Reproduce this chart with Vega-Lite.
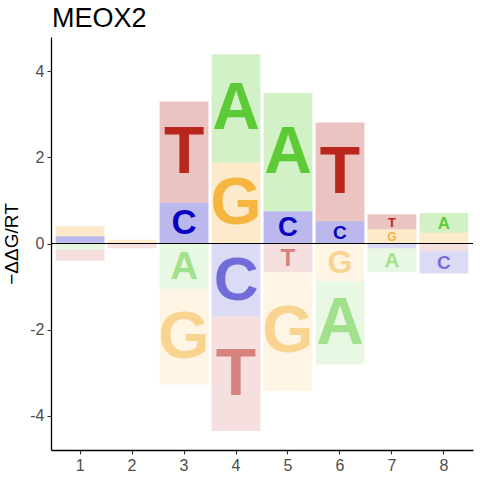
{
  "$schema": "https://vega.github.io/schema/vega-lite/v6.json",
  "width": 422,
  "height": 413,
  "autosize": "none",
  "padding": {"left": 51, "top": 37, "right": 7, "bottom": 30},
  "background": "white",
  "title": {"text": "MEOX2", "anchor": "start", "frame": "group", "offset": 4, "dx": 1, "fontSize": 27, "font": "Liberation Sans", "fontWeight": "normal", "color": "black"},
  "config": {
    "view": {"stroke": null},
    "axis": {"grid": false, "domainColor": "black", "domainWidth": 1.3, "tickColor": "#333333", "tickSize": 4, "tickWidth": 1.1, "labelColor": "#4d4d4d", "labelFont": "Liberation Sans", "labelFontSize": 16, "titleFont": "Liberation Sans", "titleFontWeight": "normal", "titleColor": "black"}
  },
  "data": {"values": [
    {"pos": 1, "letter": "C", "y0": 0.02, "y1": 0.17},
    {"pos": 1, "letter": "G", "y0": 0.17, "y1": 0.40},
    {"pos": 1, "letter": "A", "y0": 0, "y1": -0.14},
    {"pos": 1, "letter": "T", "y0": -0.14, "y1": -0.40},
    {"pos": 2, "letter": "G", "y0": 0, "y1": 0.09},
    {"pos": 2, "letter": "T", "y0": 0, "y1": -0.11},
    {"pos": 3, "letter": "C", "y0": 0, "y1": 0.95},
    {"pos": 3, "letter": "T", "y0": 0.95, "y1": 3.30},
    {"pos": 3, "letter": "A", "y0": 0, "y1": -1.05},
    {"pos": 3, "letter": "G", "y0": -1.05, "y1": -3.28},
    {"pos": 4, "letter": "G", "y0": 0, "y1": 1.88},
    {"pos": 4, "letter": "A", "y0": 1.88, "y1": 4.40},
    {"pos": 4, "letter": "C", "y0": 0, "y1": -1.69},
    {"pos": 4, "letter": "T", "y0": -1.69, "y1": -4.36},
    {"pos": 5, "letter": "C", "y0": 0, "y1": 0.75},
    {"pos": 5, "letter": "A", "y0": 0.75, "y1": 3.50},
    {"pos": 5, "letter": "T", "y0": 0, "y1": -0.66},
    {"pos": 5, "letter": "G", "y0": -0.66, "y1": -3.43},
    {"pos": 6, "letter": "C", "y0": 0, "y1": 0.52},
    {"pos": 6, "letter": "T", "y0": 0.52, "y1": 2.81},
    {"pos": 6, "letter": "G", "y0": 0, "y1": -0.88},
    {"pos": 6, "letter": "A", "y0": -0.88, "y1": -2.81},
    {"pos": 7, "letter": "G", "y0": 0, "y1": 0.33},
    {"pos": 7, "letter": "T", "y0": 0.33, "y1": 0.68},
    {"pos": 7, "letter": "C", "y0": 0, "y1": -0.11},
    {"pos": 7, "letter": "A", "y0": -0.11, "y1": -0.67},
    {"pos": 8, "letter": "G", "y0": 0, "y1": 0.25},
    {"pos": 8, "letter": "A", "y0": 0.25, "y1": 0.71},
    {"pos": 8, "letter": "T", "y0": 0, "y1": -0.18},
    {"pos": 8, "letter": "C", "y0": -0.18, "y1": -0.70}
  ]},
  "layer": [
    {
      "mark": {"type": "rect"},
      "encoding": {
        "x": {"field": "pos", "type": "ordinal", "scale": {"paddingInner": 0.06, "paddingOuter": 0.09}, "axis": {"title": null, "labelAngle": 0, "labelPadding": 3}},
        "y": {"field": "y0", "type": "quantitative", "scale": {"domain": [-4.8, 4.8], "nice": false, "zero": false}, "axis": {"title": "−ΔΔG/RT", "titleFontSize": 19, "titlePadding": 8, "values": [-4, -2, 0, 2, 4], "labelExpr": "toString(datum.value)", "labelPadding": 3}},
        "y2": {"field": "y1"},
        "color": {"field": "letter", "type": "nominal", "scale": {"domain": ["A", "C", "G", "T"], "range": ["#5dcb37", "#0a00c2", "#f5b53f", "#b8261e"]}, "legend": null},
        "opacity": {"condition": {"test": "datum.y1 < 0", "value": 0.14}, "value": 0.28}
      }
    },
    {
      "transform": [
        {"calculate": "(datum.y0 + datum.y1) / 2", "as": "mid"},
        {"calculate": "abs(datum.y1 - datum.y0)", "as": "h"},
        {"filter": "datum.h > 0.3"}
      ],
      "mark": {"type": "text", "font": "Liberation Sans", "fontWeight": "bold", "baseline": "middle", "align": "center", "dy": 1},
      "encoding": {
        "x": {"field": "pos", "type": "ordinal"},
        "y": {"field": "mid", "type": "quantitative"},
        "text": {"field": "letter"},
        "size": {"field": "h", "type": "quantitative", "scale": {"domain": [0, 1.8], "range": [0, 66], "clamp": true}, "legend": null},
        "color": {"field": "letter", "type": "nominal", "legend": null},
        "opacity": {"condition": {"test": "datum.y1 < 0", "value": 0.5}, "value": 1}
      }
    },
    {
      "data": {"values": [{}]},
      "mark": {"type": "rule", "color": "black", "strokeWidth": 1},
      "encoding": {"y": {"datum": 0}}
    }
  ]
}
